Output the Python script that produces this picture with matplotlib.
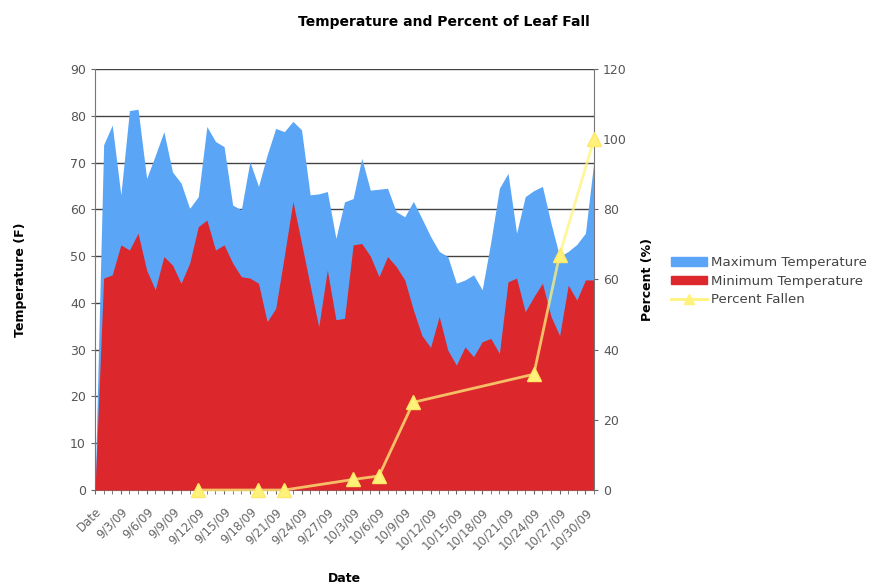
import matplotlib
matplotlib.use("Agg")
import matplotlib.pyplot as plt
import matplotlib.transforms as mtransforms
from matplotlib.patches import Patch
from matplotlib.lines import Line2D

# categories: header row "Date", then the sampled days (9/30 - 10/2 are absent)
dates = (["Date"] + ["9/%d/09" % d for d in range(1, 30)]
         + ["10/%d/09" % d for d in range(3, 32)])

max_temp = [0, 73.8, 78, 63.1, 81.1, 81.4, 66.6, 71.5, 76.6, 68,
            65.6, 60.2, 62.7, 77.7, 74.5, 73.4, 60.9, 59.9, 70.2, 64.9,
            71.6, 77.3, 76.6, 78.8, 77, 63.1, 63.3, 63.8, 53.8, 61.6,
            62.3, 70.9, 64.1, 64.3, 64.5, 59.5, 58.4, 61.7, 58, 54.2,
            51, 49.9, 44.2, 44.9, 46, 42.8, 53, 64.5, 67.7, 54.9,
            62.7, 64, 64.9, 57, 49.9, 51, 52.5, 54.9, 70.6]

min_temp = [0, 45.3, 46, 52.4, 51.3, 54.9, 47, 42.8, 49.9, 48.1,
            44.2, 48.5, 56.3, 57.7, 51.3, 52.4, 48.5, 45.6, 45.3, 44.2,
            36, 38.8, 50, 61.7, 52.8, 43.8, 34.9, 47, 36.4, 36.7,
            52.4, 52.7, 50, 45.6, 49.9, 47.8, 44.9, 38.5, 33, 30.5,
            37.1, 29.9, 26.7, 30.6, 28.5, 31.7, 32.4, 29.2, 44.5, 45.3,
            38.1, 41.3, 44.2, 37.1, 33, 43.8, 40.6, 44.9, 44.9]

pct_dates = ["9/12/09", "9/19/09", "9/22/09", "10/3/09", "10/6/09",
             "10/10/09", "10/24/09", "10/27/09", "10/31/09"]
pct_fallen = [0, 0, 0, 3, 4, 25, 33, 67, 100]

blue = "#5aa5f6"
red = "#dc282c"
yellow = "#fff27a"

x = list(range(len(dates)))
px = [dates.index(d) for d in pct_dates]

fig = plt.figure(figsize=(8.75, 5.86), dpi=100)
ax = fig.add_axes([0.1086, 0.1638, 0.5703, 0.7185])

ax.fill_between(x, 0, max_temp, color=blue, lw=0, zorder=2)
ax.fill_between(x, 0, min_temp, color=red, lw=0, zorder=3)

ax.set_xlim(0, len(dates) - 1)
ax.set_ylim(0, 90)
ax.set_yticks(range(0, 91, 10))
ax.yaxis.grid(True, color="#444444", lw=1)
ax.set_axisbelow(True)
ax.set_xticks(x[::3])
ax.set_xticklabels(dates[::3], rotation=45, ha="right", va="top",
                   rotation_mode="anchor", fontsize=8.5, color="#666666")
# Excel-like placement: labels sit a little left of their tick
shift = mtransforms.ScaledTranslation(-0.06, 0, fig.dpi_scale_trans)
for lab in ax.get_xticklabels():
    lab.set_transform(lab.get_transform() + shift)
ax.set_xticks(x, minor=True)
ax.tick_params(axis="x", which="both", length=3, color="#666666", pad=8)
ax.tick_params(axis="y", length=3, color="#666666", labelsize=9, labelcolor="#555555")
for s in ["top", "right"]:
    ax.spines[s].set_visible(False)
for s in ["left", "bottom"]:
    ax.spines[s].set_color("#777777")

ax.set_xlabel("Date", fontsize=9, fontweight="bold")
ax.xaxis.set_label_coords(0.5, -0.195)
ax.set_ylabel("Temperature (F)", fontsize=9, fontweight="bold", labelpad=31)

ax2 = ax.twinx()
ax2.plot(px, pct_fallen, color=yellow, lw=2, alpha=0.75, zorder=4, clip_on=False)
ax2.plot(px, pct_fallen, ls="none", marker="^", ms=10, mfc=yellow,
         mec="#ffe866", zorder=5, clip_on=False)
ax2.set_ylim(0, 120)
ax2.set_yticks(range(0, 121, 20))
ax2.tick_params(axis="y", length=3, color="#666666", labelsize=9, labelcolor="#555555")
for s in ["top", "left", "bottom"]:
    ax2.spines[s].set_visible(False)
ax2.spines["right"].set_color("#777777")
ax2.set_ylabel("Percent (%)", fontsize=9, fontweight="bold", labelpad=10)

handles = [Patch(color=blue), Patch(color=red),
           Line2D([], [], color=yellow, lw=2, marker="^", ms=7, mfc=yellow, mec=yellow)]
fig.legend(handles, ["Maximum Temperature", "Minimum Temperature", "Percent Fallen"],
           loc="center left", bbox_to_anchor=(0.753, 0.52), frameon=False,
           fontsize=9.6, labelcolor="#444444", handlelength=2.7, handletextpad=0.3,
           labelspacing=0.42, handleheight=0.6)

fig.text(0.507, 0.963, "Temperature and Percent of Leaf Fall", ha="center", va="center",
         fontsize=10, fontweight="bold")

fig.savefig("out.png", dpi=100)
